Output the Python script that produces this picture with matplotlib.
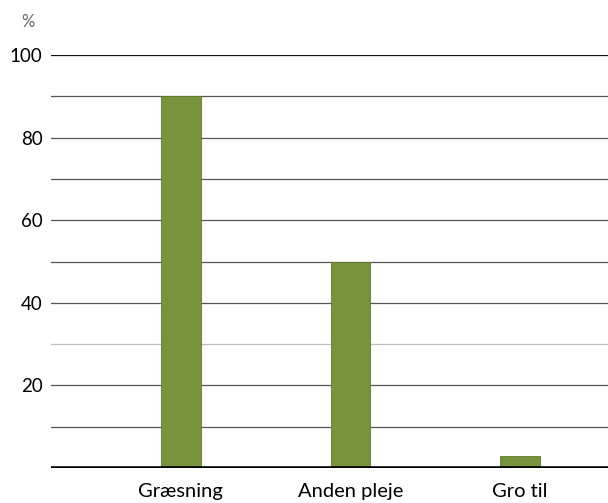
import numpy as np
import matplotlib.pyplot as plt

plt.rcParams.update({
    "font.family": ["Lato", "DejaVu Sans"],
})

# Data
categories = ["Græsning", "Anden pleje", "Gro til"]
values = [90, 50, 3]
yticks = [20, 40, 60, 80, 100]

fig = plt.figure(figsize=(6.08, 5.03), dpi=100)
ax = fig.add_axes([51 / 608, 35 / 503, 1 - 51 / 608, 413 / 503])

x = np.arange(len(categories))
ax.bar(x, values, width=0.235, color="#77933C", edgecolor="#5f7a2c", linewidth=0.6, zorder=3)

# Gridlines every 10
for g in range(10, 101, 10):
    col = "#111111" if g == 100 else ("#bbbbbb" if g == 30 else "#555555")
    ax.axhline(g, color=col, lw=0.9, zorder=1)
ax.axhline(0, color="black", lw=2.6, zorder=4)

ax.set_xlim(-0.765, 2.518)
ax.set_ylim(0, 100)
ax.set_xticks(x)
ax.set_xticklabels(categories, fontsize=14.5)
ax.set_yticks(yticks)
ax.set_yticklabels([str(t) for t in yticks], fontsize=13.5)
ax.tick_params(axis="y", length=0, pad=6)
ax.tick_params(axis="x", length=0, pad=11)

for spine in ax.spines.values():
    spine.set_visible(False)

fig.text(28 / 608, 1 - 22 / 503, "%", fontsize=12, color="#666666", ha="center", va="center")

fig.savefig("out.png", dpi=100)
